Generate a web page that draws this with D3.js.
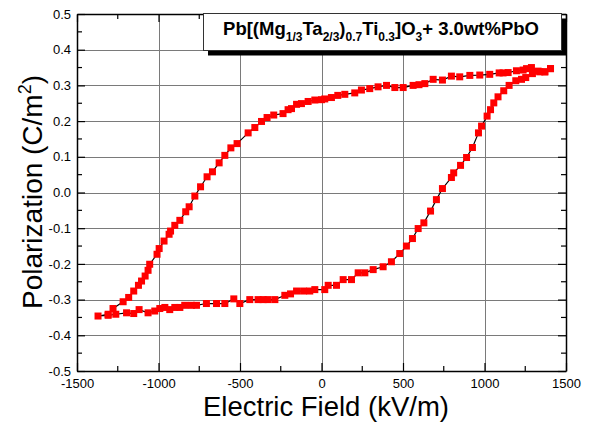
<!DOCTYPE html>
<html>
<head>
<meta charset="utf-8">
<script src="https://cdn.jsdelivr.net/npm/d3@7"></script>
<style>
  html, body { margin: 0; padding: 0; background: #fff; }
  svg { display: block; font-family: "Liberation Sans", Arial, sans-serif; }
</style>
</head>
<body>
<svg id="chart" width="590" height="423"></svg>
<script>
// ---- data ----
const upperField = [1405, 1370, 1329, 1288, 1258, 1237, 1196, 1145, 1114, 1090, 1032, 971, 910, 848, 797, 742, 685, 634, 598, 562, 501, 450, 399, 347, 296, 245, 204, 143, 100, 61, 20, 0, -41, -82, -123, -153, -184, -205, -236, -293, -334, -368, -409, -450, -518, -556, -593, -628, -669, -702, -742, -777, -812, -833, -869, -900, -926, -935, -966, -996, -1009, -1054, -1064, -1082, -1104, -1123, -1152, -1183, -1217, -1279, -1309, -1371];
const upperPol = [0.347, 0.338, 0.340, 0.350, 0.347, 0.343, 0.341, 0.336, 0.335, 0.335, 0.331, 0.329, 0.328, 0.324, 0.326, 0.315, 0.317, 0.305, 0.302, 0.300, 0.294, 0.294, 0.300, 0.296, 0.291, 0.287, 0.279, 0.275, 0.272, 0.266, 0.262, 0.260, 0.259, 0.255, 0.249, 0.247, 0.235, 0.232, 0.221, 0.217, 0.210, 0.199, 0.182, 0.167, 0.137, 0.125, 0.104, 0.083, 0.058, 0.044, 0.016, -0.010, -0.040, -0.054, -0.078, -0.092, -0.108, -0.117, -0.136, -0.157, -0.173, -0.201, -0.218, -0.234, -0.248, -0.260, -0.276, -0.294, -0.306, -0.325, -0.341, -0.346];

const lowerField = [-1371, -1309, -1262, -1196, -1152, -1119, -1064, -1023, -992, -961, -931, -900, -869, -839, -798, -767, -706, -644, -593, -538, -501, -440, -389, -358, -328, -286, -225, -190, -153, -110, -72, -41, 20, 41, 92, 133, 184, 225, 266, 317, 378, 429, 480, 521, 558, 593, 628, 669, 705, 742, 797, 811, 853, 890, 926, 963, 982, 1016, 1037, 1057, 1083, 1118, 1151, 1192, 1227, 1253, 1294, 1339, 1370, 1405];
const lowerPol = [-0.346, -0.344, -0.341, -0.337, -0.339, -0.328, -0.337, -0.332, -0.325, -0.322, -0.328, -0.322, -0.322, -0.316, -0.316, -0.316, -0.311, -0.311, -0.311, -0.298, -0.311, -0.300, -0.300, -0.300, -0.300, -0.300, -0.288, -0.284, -0.276, -0.276, -0.276, -0.272, -0.272, -0.260, -0.260, -0.244, -0.244, -0.225, -0.225, -0.216, -0.208, -0.194, -0.171, -0.150, -0.129, -0.101, -0.085, -0.052, -0.020, 0.011, 0.042, 0.055, 0.076, 0.098, 0.126, 0.167, 0.186, 0.214, 0.232, 0.251, 0.268, 0.285, 0.300, 0.313, 0.317, 0.322, 0.333, 0.338, 0.338, 0.347];

const xTicks = [-1500, -1000, -500, 0, 500, 1000, 1500];
const xMinorTicks = [-1250, -750, -250, 250, 750, 1250];
const yTicks = [0.5, 0.4, 0.3, 0.2, 0.1, 0.0, -0.1, -0.2, -0.3, -0.4, -0.5];
const yMinorTicks = [0.45, 0.35, 0.25, 0.15, 0.05, -0.05, -0.15, -0.25, -0.35, -0.45];
const xTitle = "Electric Field (kV/m)";
const yTitle = "Polarization (C/m";

// ---- layout ----
const svg = d3.select("#chart");
const L = 77, R = 566, T = 14, B = 371;
const x = d3.scaleLinear().domain([-1500, 1500]).range([L, R]);
const y = d3.scaleLinear().domain([-0.5, 0.5]).range([B, T]);

// grid
const grid = svg.append("g").attr("stroke", "#7a7a7a").attr("stroke-width", 1);
grid.selectAll("line.gx").data(xTicks.slice(1, -1)).join("line")
  .attr("x1", d => Math.round(x(d)) + 0.5).attr("x2", d => Math.round(x(d)) + 0.5)
  .attr("y1", T).attr("y2", B);
grid.selectAll("line.gy").data(yTicks.slice(1, -1)).join("line")
  .attr("y1", d => Math.round(y(d)) + 0.5).attr("y2", d => Math.round(y(d)) + 0.5)
  .attr("x1", L).attr("x2", R);

// axes (ticks inward)
function styleAxis(g) {
  g.selectAll("path.domain").attr("stroke", "#000").attr("stroke-width", 1.5);
  g.selectAll(".tick line").attr("stroke", "#000").attr("stroke-width", 1.2);
  g.selectAll("text").attr("font-size", 13).attr("fill", "#000")
    .attr("font-family", '"Liberation Sans", Arial, sans-serif');
}
const fmtY = d => d3.format(".1f")(d).replace("−", "-");
const fmtX = d => String(d);

const gBottom = svg.append("g").attr("transform", `translate(0,${B})`)
  .call(d3.axisBottom(x).tickValues(xTicks).tickFormat(fmtX).tickSizeInner(-8).tickSizeOuter(0).tickPadding(8));
gBottom.append("g").selectAll("line").data(xMinorTicks).join("line")
  .attr("x1", d => x(d)).attr("x2", d => x(d)).attr("y1", 0).attr("y2", -5).attr("stroke", "#000").attr("stroke-width", 1.2);
styleAxis(gBottom);

const gTop = svg.append("g").attr("transform", `translate(0,${T})`)
  .call(d3.axisTop(x).tickValues(xTicks).tickFormat("").tickSizeInner(-8).tickSizeOuter(0));
gTop.append("g").selectAll("line").data(xMinorTicks).join("line")
  .attr("x1", d => x(d)).attr("x2", d => x(d)).attr("y1", 0).attr("y2", 5).attr("stroke", "#000").attr("stroke-width", 1.2);
styleAxis(gTop);

const gLeft = svg.append("g").attr("transform", `translate(${L},0)`)
  .call(d3.axisLeft(y).tickValues(yTicks).tickFormat(fmtY).tickSizeInner(-8).tickSizeOuter(0).tickPadding(6));
gLeft.append("g").selectAll("line").data(yMinorTicks).join("line")
  .attr("y1", d => y(d)).attr("y2", d => y(d)).attr("x1", 0).attr("x2", 5).attr("stroke", "#000").attr("stroke-width", 1.2);
styleAxis(gLeft);

const gRight = svg.append("g").attr("transform", `translate(${R},0)`)
  .call(d3.axisRight(y).tickValues(yTicks).tickFormat("").tickSizeInner(-8).tickSizeOuter(0));
gRight.append("g").selectAll("line").data(yMinorTicks).join("line")
  .attr("y1", d => y(d)).attr("y2", d => y(d)).attr("x1", 0).attr("x2", -5).attr("stroke", "#000").attr("stroke-width", 1.2);
styleAxis(gRight);

// data
const upper = upperField.map((e, i) => [e, upperPol[i]]);
const lower = lowerField.map((e, i) => [e, lowerPol[i]]);
const all = upper.concat(lower.slice(1));
const line = d3.line().x(d => x(d[0])).y(d => y(d[1]));
svg.append("path").datum(all).attr("d", line)
  .attr("fill", "none").attr("stroke", "#000").attr("stroke-width", 1.2);
const ms = 7;
svg.append("g").attr("fill", "#ff0000").selectAll("rect").data(all).join("rect")
  .attr("x", d => x(d[0]) - ms / 2).attr("y", d => y(d[1]) - ms / 2)
  .attr("width", ms).attr("height", ms);

// legend box with shadow
svg.append("rect").attr("x", 208).attr("y", 18.5).attr("width", 358).attr("height", 37).attr("fill", "#000");
svg.append("rect").attr("x", 203.5).attr("y", 13.5).attr("width", 358).attr("height", 37)
  .attr("fill", "#fff").attr("stroke", "#333").attr("stroke-width", 1);
const lt = svg.append("text").attr("x", 381).attr("y", 35).attr("text-anchor", "middle")
  .attr("font-size", 18.5).attr("font-weight", "bold").attr("fill", "#000");
const parts = [["Pb[(Mg", 0], ["1/3", 1], ["Ta", 0], ["2/3", 1], [")", 0], ["0.7", 1], ["Ti", 0], ["0.3", 1], ["]O", 0], ["3", 1], ["+ 3.0wt%PbO", 0]];
let prevSub = 0;
parts.forEach(([t, sub]) => {
  const dy = sub && !prevSub ? 5.5 : (!sub && prevSub ? -5.5 : 0);
  lt.append("tspan").attr("dy", dy).attr("font-size", sub ? 12 : 18.5).text(t);
  prevSub = sub;
});

// axis titles
svg.append("text").attr("x", 326).attr("y", 416).attr("text-anchor", "middle")
  .attr("font-size", 27.5).attr("fill", "#000").text(xTitle);
const yt = svg.append("text").attr("transform", "translate(42,192) rotate(-90)").attr("text-anchor", "middle")
  .attr("font-size", 28).attr("fill", "#000");
yt.append("tspan").text(yTitle);
yt.append("tspan").attr("font-size", 18).attr("dy", -11).text("2");
yt.append("tspan").attr("dy", 11).text(")");
</script>
</body>
</html>
